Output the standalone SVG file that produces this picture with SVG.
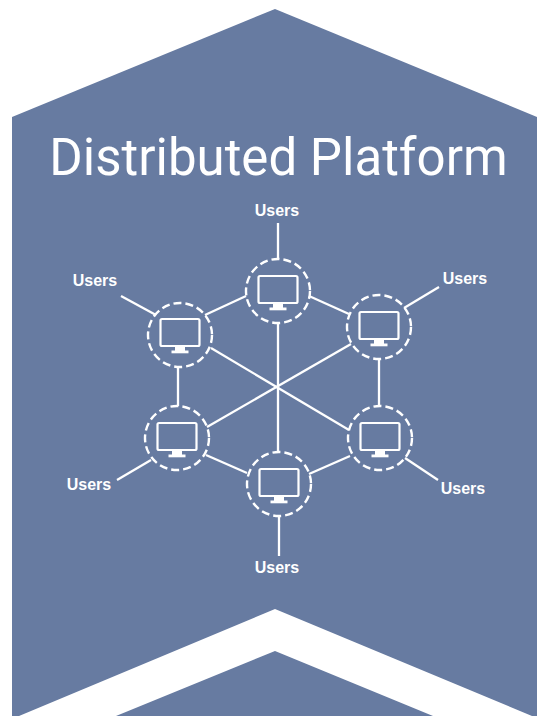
<svg xmlns="http://www.w3.org/2000/svg" width="537" height="716" viewBox="0 0 537 716">
<style>
.l{stroke:#fff;stroke-width:2.3;fill:none}
.c{stroke:#fff;stroke-width:2.4;fill:none;stroke-dasharray:8 4}
.s{stroke:#fff;stroke-width:2.2;fill:none}
.b{fill:#fff}
.u{font:700 16px "Liberation Sans",Arial,sans-serif;fill:#fff;text-anchor:middle}
.t{font:400 51px Roboto,sans-serif;fill:#fff;text-anchor:middle}
</style>
<defs>
<g id="m">
<rect x="-19.5" y="-17" width="39" height="27" rx="1.5" class="s"/>
<rect x="-5" y="11" width="10" height="4" class="b"/>
<rect x="-8.5" y="14.5" width="17" height="2.8" class="b"/>
</g>
</defs>
<polygon id="bg" points="12,117 275,9 537,117 537,716 12,716" fill="#677ba1"/>
<polygon id="chevron" points="19,716 275,609 532,716 433,716 275,651 116,716" fill="#fff"/>
<text x="278.500" y="175" class="t">Distributed Platform</text>
<g id="connectors">
<line class="l" x1="278" y1="223" x2="278" y2="259"/>
<line class="l" x1="278" y1="324" x2="278" y2="452"/>
<line class="l" x1="279" y1="516" x2="279" y2="556"/>
<line class="l" x1="178" y1="367" x2="178" y2="406"/>
<line class="l" x1="379" y1="359" x2="379" y2="406"/>
<line class="l" x1="121" y1="296" x2="156" y2="315"/>
<line class="l" x1="205" y1="315" x2="246" y2="296"/>
<line class="l" x1="309" y1="296" x2="349" y2="314"/>
<line class="l" x1="404" y1="308" x2="439" y2="287"/>
<line class="l" x1="211" y1="348" x2="349" y2="430"/>
<line class="l" x1="207" y1="427" x2="351" y2="344"/>
<line class="l" x1="117" y1="480" x2="151" y2="460"/>
<line class="l" x1="206" y1="455" x2="247" y2="473"/>
<line class="l" x1="309" y1="474" x2="350" y2="456"/>
<line class="l" x1="405" y1="458" x2="438" y2="480"/>
</g>
<g id="node-top"><circle class="c" cx="278" cy="291" r="32"/><use href="#m" x="278" y="293"/></g>
<g id="node-tl"><circle class="c" cx="180" cy="335" r="32"/><use href="#m" x="180" y="336"/></g>
<g id="node-tr"><circle class="c" cx="379" cy="327" r="32"/><use href="#m" x="379" y="329"/></g>
<g id="node-bl"><circle class="c" cx="177" cy="438" r="32"/><use href="#m" x="177" y="440"/></g>
<g id="node-br"><circle class="c" cx="380" cy="438" r="32"/><use href="#m" x="380" y="440"/></g>
<g id="node-b"><circle class="c" cx="279" cy="484" r="32"/><use href="#m" x="279" y="486"/></g>
<text x="277" y="215.500" class="u">Users</text>
<text x="95" y="285.500" class="u">Users</text>
<text x="465" y="283.500" class="u">Users</text>
<text x="89" y="489.500" class="u">Users</text>
<text x="463" y="493.500" class="u">Users</text>
<text x="277" y="572.500" class="u">Users</text>
</svg>
